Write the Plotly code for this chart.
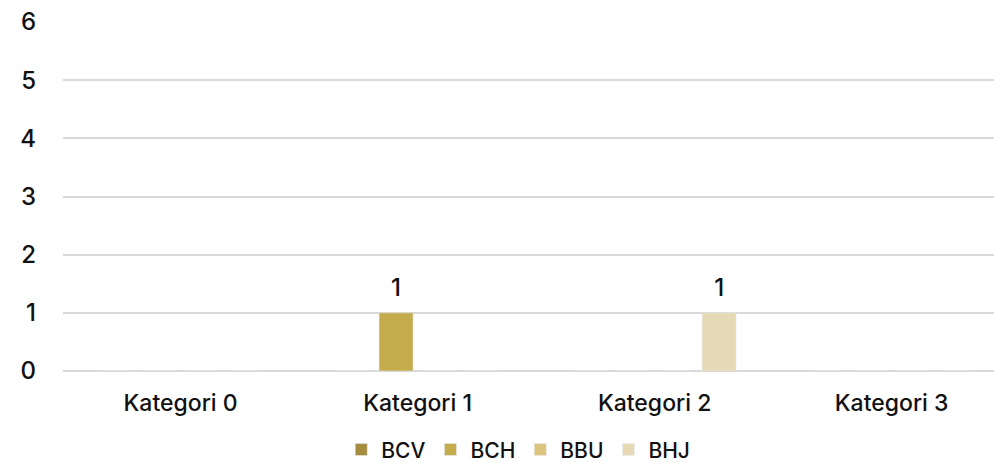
import plotly.graph_objects as go

categories = ["Kategori 0", "Kategori 1", "Kategori 2", "Kategori 3"]
series_names = ["BCV", "BCH", "BBU", "BHJ"]
bcv = [0, 0, 0, 0]
bch = [0, 1, 0, 0]
bbu = [0, 0, 0, 0]
bhj = [0, 0, 1, 0]
colors = ["#A58D3D", "#C4AB4C", "#DCC47E", "#E6D9B5"]
y_ticks = [0, 1, 2, 3, 4, 5, 6]

FONT = "Inter"
fig = go.Figure()
for name, vals, col in zip(series_names, [bcv, bch, bbu, bhj], colors):
    fig.add_trace(go.Bar(
        x=categories, y=vals, name=name, marker_color=col,
        offsetgroup=name,
    ))
# value labels, grouped like the bars
for name, vals in zip(series_names, [bcv, bch, bbu, bhj]):
    fig.add_trace(go.Scatter(
        x=categories, y=[v if v else None for v in vals],
        text=[str(v) if v else "" for v in vals],
        mode="markers+text", textposition="top center",
        marker=dict(size=16, color="rgba(0,0,0,0)"),
        textfont=dict(family=FONT, size=24, color="#111111", weight=500),
        offsetgroup=name, showlegend=False, hoverinfo="skip", cliponaxis=False,
    ))

fig.update_layout(
    width=994, height=463,
    margin=dict(l=63, r=0, t=22, b=92, autoexpand=False),
    paper_bgcolor="white", plot_bgcolor="white",
    barmode="group", bargap=0.274, bargroupgap=0.21,
    scattermode="group", scattergap=0.274,
    font=dict(family=FONT, color="#111111"),
    showlegend=True,
    legend=dict(orientation="h", x=0.489, xanchor="center", yref="paper",
                y=-0.226, yanchor="middle", tracegroupgap=0,
                font=dict(family=FONT, size=21, color="#111111", weight=500),
                itemwidth=30, traceorder="normal"),
)
fig.update_xaxes(range=[-0.496, 3.432], showgrid=False, showline=False, ticks="",
                 ticklabelstandoff=16, automargin=False,
                 tickfont=dict(family=FONT, size=23, color="#111111", weight=500))
fig.update_yaxes(range=[0, 6], tickvals=y_ticks, showgrid=True, gridcolor="#D9D9D9",
                 gridwidth=2, zeroline=True, zerolinecolor="#D9D9D9", zerolinewidth=2,
                 showline=False, ticks="", ticklabelstandoff=26, automargin=False,
                 tickfont=dict(family=FONT, size=24, color="#111111", weight=500))
fig.write_html("out.html")
